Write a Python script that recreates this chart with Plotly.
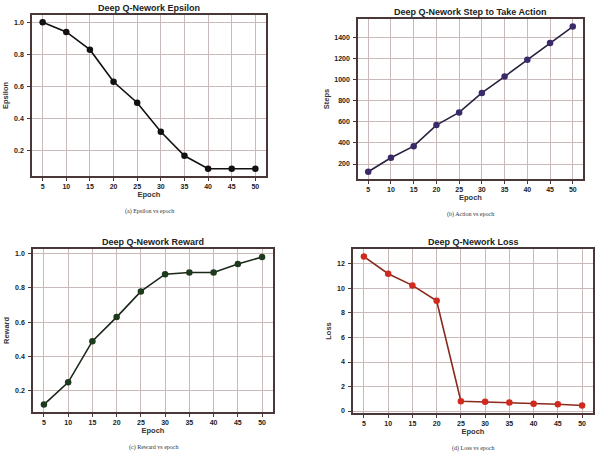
import plotly.graph_objects as go

epochs = [5, 10, 15, 20, 25, 30, 35, 40, 45, 50]
epsilon = [1.0, 0.94, 0.83, 0.63, 0.50, 0.32, 0.17, 0.09, 0.09, 0.09]
steps = [127, 260, 370, 570, 690, 875, 1030, 1190, 1350, 1505]
reward = [0.12, 0.25, 0.49, 0.63, 0.78, 0.88, 0.89, 0.89, 0.94, 0.98]
loss = [12.6, 11.2, 10.25, 9.0, 0.8, 0.75, 0.7, 0.6, 0.55, 0.45]

titles = ["Deep Q-Nework Epsilon", "Deep Q-Nework Step to Take Action",
          "Deep Q-Nework Reward", "Deep Q-Nework Loss"]
ylabels = ["Epsilon", "Steps", "Reward", "Loss"]
captions = ["(a) Epsilon vs epoch", "(b) Action vs epoch",
            "(c) Reward vs epoch", "(d) Loss vs epoch"]
yticks = [[0.2, 0.4, 0.6, 0.8, 1.0], [200, 400, 600, 800, 1000, 1200, 1400],
          [0.2, 0.4, 0.6, 0.8, 1.0], [0, 2, 4, 6, 8, 10, 12]]
ytext = [["0.2", "0.4", "0.6", "0.8", "1.0"], None,
         ["0.2", "0.4", "0.6", "0.8", "1.0"], None]

W, H = 600, 455
# pixel boxes: left, right, top, bottom
boxes = [(32, 266, 15, 176), (358, 583, 19, 179), (33, 273, 249, 412), (353, 593, 249, 413)]
yranges = [[0.0445, 1.0455], [58, 1577], [0.077, 1.027], [-0.16, 13.22]]
line_colors = ["#111111", "#2a2040", "#1a261a", "#8a2a1c"]
marker_colors = ["#111111", "#3b2a6a", "#1e3a1e", "#d02a1e"]
series = [epsilon, steps, reward, loss]

SANS = "Liberation Sans, Arial, sans-serif"
fig = go.Figure()
frame_col = "#4a3838"
grid_col = "#c9b9b9"
tick_font = dict(family=SANS, size=7, color="#222222")
lab_font = dict(family=SANS, size=7.5, color="#333333")

annotations = []
for i in range(4):
    l, r, t, b = boxes[i]
    xd = [l / W, r / W]
    yd = [1 - b / H, 1 - t / H]
    sfx = "" if i == 0 else str(i + 1)
    fig.add_trace(go.Scatter(
        x=epochs, y=series[i], mode="lines+markers",
        line=dict(color=line_colors[i], width=1.6),
        marker=dict(color=marker_colors[i], size=6.5),
        xaxis="x" + sfx, yaxis="y" + sfx, showlegend=False))
    xa = dict(domain=xd, range=[2.75, 52.25], tickvals=epochs,
              ticktext=["<b>%d</b>" % e for e in epochs],
              showgrid=True, gridcolor=grid_col, gridwidth=1,
              showline=True, linecolor=frame_col, linewidth=1.5, mirror=True,
              ticks="outside", ticklen=3, tickcolor=frame_col,
              tickfont=tick_font, zeroline=False, anchor="y" + sfx,
              automargin=False,
              title=dict(text="<b>Epoch</b>", font=lab_font, standoff=0))
    tt = ytext[i] if ytext[i] is not None else [str(v) for v in yticks[i]]
    ya = dict(domain=yd, range=yranges[i], tickvals=yticks[i],
              ticktext=["<b>%s</b>" % s for s in tt],
              showgrid=True, gridcolor=grid_col, gridwidth=1,
              showline=True, linecolor=frame_col, linewidth=1.5, mirror=True,
              ticks="outside", ticklen=3, tickcolor=frame_col,
              tickfont=tick_font, zeroline=False, anchor="x" + sfx,
              automargin=False, ticklabelstandoff=2,
              title=dict(text="<b>" + ylabels[i] + "</b>", font=lab_font, standoff=4))
    fig.update_layout(**{"xaxis" + sfx: xa, "yaxis" + sfx: ya})
    annotations.append(dict(
        x=(xd[0] + xd[1]) / 2, y=yd[1], xref="paper", yref="paper",
        yanchor="bottom", xanchor="center", yshift=0, showarrow=False,
        text="<b>" + titles[i] + "</b>",
        font=dict(family=SANS, size=9, color="#222222")))
    annotations.append(dict(
        x=(xd[0] + xd[1]) / 2, y=yd[0], xref="paper", yref="paper",
        yanchor="top", xanchor="center", yshift=-30, showarrow=False,
        text=captions[i],
        font=dict(family="Liberation Serif", size=6, color="#333333")))

fig.update_layout(width=W, height=H, margin=dict(l=0, r=0, t=0, b=0),
                  paper_bgcolor="white", plot_bgcolor="white",
                  annotations=annotations)
fig.write_html("out.html", config={"displayModeBar": False},
               post_script="document.body.style.margin='0';document.body.style.padding='0';")
